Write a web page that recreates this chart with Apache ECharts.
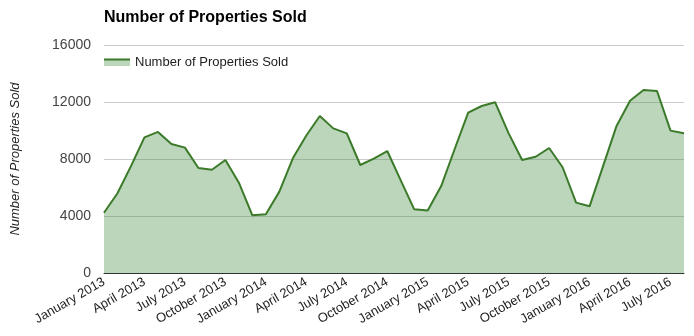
<!DOCTYPE html>
<html>
<head>
<meta charset="utf-8">
<script src="https://cdn.jsdelivr.net/npm/echarts@6/dist/echarts.min.js"></script>
<style>
html,body{margin:0;padding:0;background:#fff;}
#chart{width:694px;height:336px;}
</style>
</head>
<body>
<div id="chart"></div>
<script>
const monthNames = ['January','February','March','April','May','June','July','August','September','October','November','December'];
const categories = [];
for (let y = 2013; y <= 2016; y++) {
  for (let m = 0; m < 12; m++) {
    if (y === 2016 && m > 7) break;
    categories.push(monthNames[m] + ' ' + y);
  }
}
const propertiesSold = [
  4230, 5600, 7500, 9520, 9900, 9050, 8800, 7370, 7250, 7930, 6340, 4050,
  4120, 5710, 8050, 9650, 11020, 10150, 9800, 7580, 8030, 8560, 6500, 4470,
  4380, 6100, 8700, 11250, 11720, 11980, 9800, 7930, 8160, 8770, 7420, 4940,
  4680, 7500, 10320, 12090, 12840, 12770, 9990, 9800
];
const yTicks = [0, 4000, 8000, 12000, 16000];
const seriesName = 'Number of Properties Sold';

const chart = echarts.init(document.getElementById('chart'), null, {renderer: 'canvas'});
const font = 'Arial, "Liberation Sans", sans-serif';
chart.setOption({
  animation: false,
  title: {
    text: 'Number of Properties Sold',
    left: 99, top: 5,
    textStyle: {fontFamily: font, fontSize: 16, fontWeight: 'bold', color: '#000'}
  },
  legend: {
    left: 99, top: 51,
    icon: 'rect',
    itemWidth: 26, itemHeight: 7, itemGap: 5,
    itemStyle: {color: '#bcd6bb', borderWidth: 0},
    textStyle: {fontFamily: font, fontSize: 13, color: '#222'},
    data: [seriesName]
  },
  graphic: [{
    type: 'line', z: 100,
    shape: {x1: 104, y1: 59.5, x2: 130, y2: 59.5},
    style: {stroke: '#3a7a28', lineWidth: 2}
  }],
  grid: {left: 104, right: 10, top: 45, bottom: 63},
  xAxis: {
    type: 'category',
    data: categories,
    boundaryGap: false,
    axisLine: {lineStyle: {color: '#333', width: 1}},
    axisTick: {show: false},
    axisLabel: {
      interval: 2, rotate: 30, margin: 8,
      fontFamily: font, fontSize: 13, color: '#222'
    },
    splitLine: {show: false}
  },
  yAxis: {
    type: 'value',
    min: yTicks[0], max: yTicks[yTicks.length - 1], interval: 4000,
    name: 'Number of Properties Sold',
    nameLocation: 'middle',
    nameGap: 82,
    nameTextStyle: {fontFamily: font, fontSize: 13, fontStyle: 'italic', color: '#222'},
    axisLine: {show: false},
    axisTick: {show: false},
    axisLabel: {margin: 13, fontFamily: font, fontSize: 14, color: '#444', formatter: v => String(v)},
    splitLine: {lineStyle: {color: '#cccccc', width: 1}}
  },
  series: [{
    name: seriesName,
    type: 'line',
    data: propertiesSold,
    symbol: 'none',
    lineStyle: {color: '#3a7a28', width: 2},
    itemStyle: {color: '#3a7a28'},
    areaStyle: {color: '#408a40', opacity: 0.35}
  }]
});
</script>
</body>
</html>
